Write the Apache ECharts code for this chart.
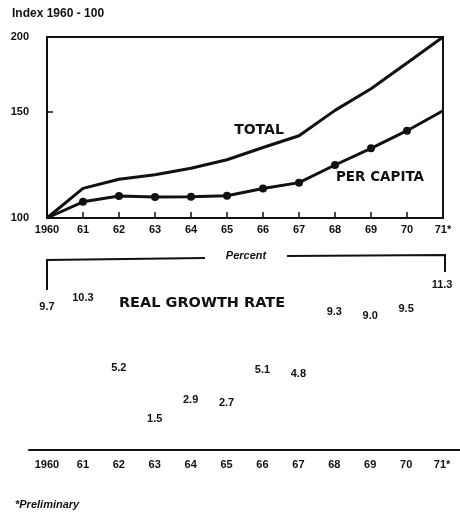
<!DOCTYPE html>
<html>
<head>
<meta charset="utf-8">
<script src="https://cdn.jsdelivr.net/npm/echarts@6/dist/echarts.min.js"></script>
<style>
  html, body { margin: 0; padding: 0; background: #fff; }
  #chart { width: 460px; height: 513px; }
</style>
</head>
<body>
<div id="chart"></div>
<script>
// years on both panels
const years = ['1960', '61', '62', '63', '64', '65', '66', '67', '68', '69', '70', '71*'];
// index 1960 = 100 (log scale)
const totalIndex = [100, 112, 116, 118, 121, 125, 131, 137, 151, 164, 181, 200];
const perCapitaIndex = [100, 106.4, 108.8, 108.4, 108.5, 108.9, 112, 114.5, 122.5, 130.6, 139.7, 150.8];
// real growth rate, percent
const growthRate = [9.7, 10.3, 5.2, 1.5, 2.9, 2.7, 5.1, 4.8, 9.3, 9.0, 9.5, 11.3];
const indexLabels = [100, 150, 200];
const indexTicks = [150];

const ink = '#111';
const font = '"Liberation Sans", "DejaVu Sans", sans-serif';

const chart = echarts.init(document.getElementById('chart'));

const option = {
  backgroundColor: '#fff',
  animation: false,
  textStyle: { fontFamily: font, color: ink },
  grid: [
    { left: 47, right: 17, top: 37, bottom: 295, show: true, borderColor: ink, borderWidth: 2 },
    { left: 29, right: 0, top: 258, bottom: 63 }
  ],
  xAxis: [
    {
      type: 'category',
      gridIndex: 0,
      data: years,
      boundaryGap: false,
      axisLine: { lineStyle: { color: ink, width: 2 } },
      axisTick: { inside: true, length: 6, lineStyle: { color: ink, width: 1.5 } },
      axisLabel: { color: ink, fontWeight: 'bold', fontSize: 11, margin: 6, interval: 0 }
    },
    {
      type: 'category',
      gridIndex: 1,
      data: years,
      boundaryGap: true,
      axisLine: { lineStyle: { color: ink, width: 2 } },
      axisTick: { show: false },
      axisLabel: { color: ink, fontWeight: 'bold', fontSize: 11, margin: 9, interval: 0 }
    }
  ],
  yAxis: [
    {
      type: 'log',
      gridIndex: 0,
      logBase: 10,
      min: 100,
      max: 200,
      axisLine: { show: true, lineStyle: { color: ink, width: 2 } },
      axisTick: { show: true, inside: true, length: 6, customValues: indexTicks, lineStyle: { color: ink, width: 1.5 } },
      axisLabel: { color: ink, fontWeight: 'bold', fontSize: 11, margin: 18, customValues: indexLabels },
      splitLine: { show: false }
    },
    {
      type: 'value',
      gridIndex: 1,
      min: 0,
      max: 14,
      show: false,
      splitLine: { show: false }
    }
  ],
  series: [
    {
      name: 'TOTAL',
      type: 'line',
      xAxisIndex: 0,
      yAxisIndex: 0,
      data: totalIndex,
      symbol: 'none',
      lineStyle: { color: ink, width: 3 }
    },
    {
      name: 'PER CAPITA',
      type: 'line',
      xAxisIndex: 0,
      yAxisIndex: 0,
      // dots on the inner years only
      data: perCapitaIndex.map((v, i) => ({
        value: v,
        symbol: (i === 0 || i === perCapitaIndex.length - 1) ? 'none' : 'circle'
      })),
      symbolSize: 8,
      itemStyle: { color: ink },
      lineStyle: { color: ink, width: 3 }
    },
    {
      name: 'Real growth rate',
      type: 'bar',
      xAxisIndex: 1,
      yAxisIndex: 1,
      data: growthRate,
      barWidth: 20,
      itemStyle: { color: 'rgba(0,0,0,0)' },
      label: {
        show: true,
        position: 'top',
        distance: 5,
        color: ink,
        fontWeight: 'bold',
        fontSize: 11,
        formatter: p => p.value.toFixed(1)
      }
    }
  ],
  graphic: [
    { type: 'text', left: 12, top: 8, style: { text: 'Index 1960 - 100', font: 'bold 12px ' + font, fill: ink } },
    { type: 'text', x: 259, y: 130, style: { text: 'TOTAL', font: 'bold 14px "DejaVu Sans", sans-serif', fill: ink, align: 'center', verticalAlign: 'middle' } },
    { type: 'text', x: 380, y: 177, style: { text: 'PER CAPITA', font: 'bold 13.5px "DejaVu Sans", sans-serif', fill: ink, align: 'center', verticalAlign: 'middle' } },
    // percent bracket
    { type: 'polyline', shape: { points: [[47, 290], [47, 260], [205, 258]] }, style: { stroke: ink, lineWidth: 2, fill: null } },
    { type: 'polyline', shape: { points: [[287, 256], [445, 255], [445, 272]] }, style: { stroke: ink, lineWidth: 2, fill: null } },
    { type: 'text', x: 246, y: 256, style: { text: 'Percent', font: 'italic bold 11px ' + font, fill: ink, align: 'center', verticalAlign: 'middle' } },
    { type: 'text', x: 202, y: 303, style: { text: 'REAL GROWTH RATE', font: 'bold 14.5px "DejaVu Sans", sans-serif', fill: ink, align: 'center', verticalAlign: 'middle' } },
    { type: 'text', left: 15, top: 499, style: { text: '*Preliminary', font: 'italic bold 11px ' + font, fill: ink } }
  ]
};

chart.setOption(option);
</script>
</body>
</html>
